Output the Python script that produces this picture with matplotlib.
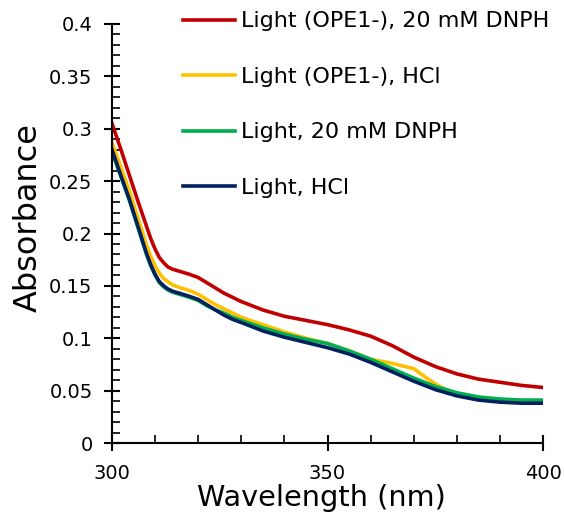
import matplotlib
matplotlib.use("Agg")
import matplotlib.pyplot as plt
from matplotlib.ticker import MultipleLocator

plt.rcParams['font.family'] = ['DejaVu Sans']

# wavelengths (nm) and absorbance
wl = [300, 302, 304, 306, 308, 309, 310, 311, 312, 313, 314, 316, 318, 320, 322,
      324, 326, 328, 330, 335, 340, 345, 350, 355, 360, 365, 370, 375, 380, 385,
      390, 395, 400]

red_dnph = [0.305, 0.281, 0.256, 0.231, 0.207, 0.195, 0.185, 0.177, 0.172, 0.168,
            0.166, 0.1635, 0.161, 0.158, 0.153, 0.148, 0.143, 0.139, 0.135, 0.127,
            0.121, 0.117, 0.113, 0.108, 0.102, 0.093, 0.082, 0.073, 0.066, 0.061,
            0.058, 0.055, 0.053]

wl_yellow = [300, 302, 304, 306, 308, 309, 310, 311, 312, 313, 314, 316, 318, 320, 322,
             324, 326, 328, 330, 335, 340, 345, 350, 355, 360, 365, 370, 373, 376,
             378, 380, 385, 390, 395, 400]
yellow_hcl = [0.287, 0.264, 0.241, 0.215, 0.189, 0.178, 0.169, 0.162, 0.157, 0.154,
              0.151, 0.148, 0.1455, 0.142, 0.137, 0.132, 0.128, 0.124, 0.120, 0.113,
              0.106, 0.100, 0.095, 0.088, 0.080, 0.076, 0.071, 0.062, 0.054, 0.050,
              0.047, 0.043, 0.041, 0.040, 0.040]

green_dnph = [0.278, 0.255, 0.232, 0.206, 0.180, 0.169, 0.160, 0.153, 0.149, 0.146,
              0.144, 0.1415, 0.139, 0.136, 0.131, 0.127, 0.124, 0.120, 0.117, 0.110,
              0.104, 0.099, 0.095, 0.088, 0.080, 0.071, 0.062, 0.054, 0.048, 0.044,
              0.042, 0.041, 0.041]

navy_hcl = [0.280, 0.256, 0.233, 0.207, 0.181, 0.170, 0.161, 0.154, 0.150, 0.147,
            0.145, 0.1425, 0.140, 0.137, 0.132, 0.127, 0.122, 0.118, 0.115, 0.107,
            0.101, 0.096, 0.091, 0.085, 0.077, 0.068, 0.059, 0.051, 0.045, 0.041,
            0.039, 0.038, 0.038]

labels = ['Light (OPE1-), 20 mM DNPH', 'Light (OPE1-), HCl',
          'Light, 20 mM DNPH', 'Light, HCl']
colors = ['#C00000', '#FFC000', '#00B050', '#002060']

fig = plt.figure(figsize=(5.64, 5.15), dpi=100)
ax = fig.add_axes([0.1986, 0.1398, 0.7642, 0.8136])

ax.plot(wl, red_dnph, color=colors[0], lw=2.6, label=labels[0])
ax.plot(wl_yellow, yellow_hcl, color=colors[1], lw=2.6, label=labels[1])
ax.plot(wl, green_dnph, color=colors[2], lw=2.6, label=labels[2])
ax.plot(wl, navy_hcl, color=colors[3], lw=2.6, label=labels[3])

ax.set_xlim(300, 400)
ax.set_ylim(0, 0.4)
ax.xaxis.set_major_locator(MultipleLocator(50))
ax.xaxis.set_minor_locator(MultipleLocator(10))
ax.yaxis.set_minor_locator(MultipleLocator(0.01))
ax.set_yticks([0, 0.05, 0.1, 0.15, 0.2, 0.25, 0.3, 0.35, 0.4])
ax.set_yticklabels(['0', '0.05', '0.1', '0.15', '0.2', '0.25', '0.3', '0.35', '0.4'])

for s in ['top', 'right']:
    ax.spines[s].set_visible(False)
for s in ['left', 'bottom']:
    ax.spines[s].set_linewidth(1.5)

ax.tick_params(which='major', direction='inout', length=12, width=1.5,
               labelsize=14, colors='black')
ax.tick_params(which='minor', direction='in', length=6, width=1.2)
ax.tick_params(axis='x', which='major', pad=9)
ax.tick_params(axis='y', which='major', pad=8)

ax.set_xlabel('Wavelength (nm)', fontsize=20.7, labelpad=1)
ax.set_ylabel('Absorbance', fontsize=23, labelpad=4)
ax.xaxis.label.set_x(0.486)
ax.yaxis.label.set_y(0.537)

ax.legend(loc='upper left', bbox_to_anchor=(0.324, 0.978),
          bbox_transform=fig.transFigure, frameon=False, fontsize=16,
          handlelength=2.34, handletextpad=0.27, labelspacing=1.6,
          borderaxespad=0, borderpad=0)

fig.savefig('out.png', dpi=100)
